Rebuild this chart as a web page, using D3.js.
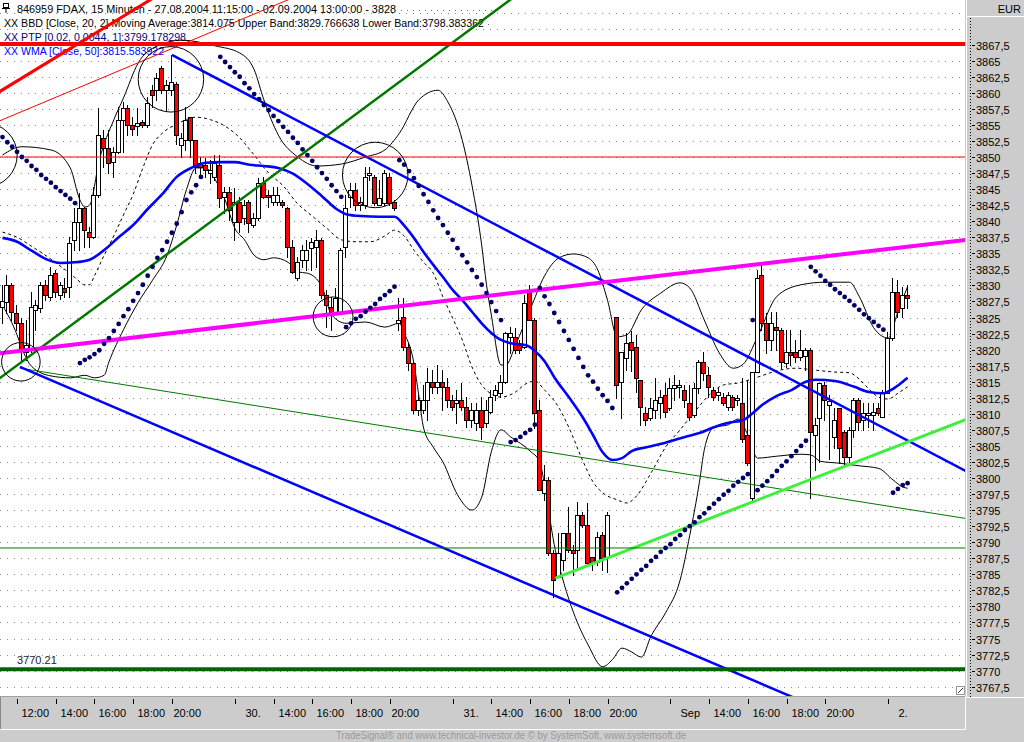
<!DOCTYPE html>
<html><head><meta charset="utf-8">
<script src="https://cdn.jsdelivr.net/npm/d3@7"></script>
<style>
body{margin:0;background:#cccccc;}
svg{display:block;font-family:"Liberation Sans",Arial,sans-serif;}
</style>
</head><body>
<svg id="c" width="1024" height="742"></svg>
<script>
// ---------------- DATA ----------------
const opens = [3826.6,3827.4,3830.1,3825.7,3824.1,3819.6,3820.2,3826.2,3826.5,3830.1,3828.2,3831.9,3828.5,3829.6,3829.7,3837.1,3839.9,3842.1,3838.3,3837.5,3844.1,3853.0,3851.4,3849.2,3850.8,3855.8,3857.6,3855.0,3854.8,3855.5,3855.0,3860.4,3860.4,3863.9,3860.4,3860.4,3861.4,3851.9,3852.6,3856.2,3852.6,3849.1,3848.8,3847.5,3846.9,3848.8,3843.8,3844.5,3839.9,3843.0,3840.5,3843.0,3839.4,3840.5,3846.0,3844.1,3843.0,3843.0,3843.0,3842.1,3836.0,3831.2,3834.0,3834.0,3835.8,3836.0,3837.1,3828.5,3826.6,3825.9,3825.9,3836.0,3843.8,3844.9,3842.5,3842.5,3847.2,3846.9,3842.5,3842.8,3846.9,3843.0,3824.1,3825.1,3820.4,3817.9,3810.6,3810.6,3812.1,3815.0,3814.2,3815.0,3814.2,3812.1,3811.7,3812.1,3811.1,3809.0,3808.6,3810.6,3808.6,3810.3,3812.9,3813.2,3815.0,3822.0,3822.0,3820.7,3820.4,3829.0,3824.6,3810.6,3797.7,3799.7,3788.3,3784.6,3787.2,3791.4,3788.8,3788.8,3794.2,3792.7,3787.7,3786.9,3791.1,3787.7,null,3825.1,3815.0,3818.7,3821.2,3820.4,3815.3,3810.1,3809.3,3810.6,3811.7,3812.9,3810.9,3814.0,3814.2,3813.7,3811.7,3809.8,3814.0,3818.1,3816.1,3813.7,3812.9,3812.6,3811.1,3812.6,3812.1,3811.7,3806.7,3796.9,3816.5,3831.6,3824.1,3821.5,3823.5,3823.1,3817.9,3819.6,3819.6,3818.9,3819.0,3820.0,3806.7,3809.3,3814.5,3811.4,3806.4,3810.9,3807.2,3803.3,3807.5,3812.1,3809.0,3809.8,3809.8,3810.9,3809.5,3813.2,3821.8,3829.0,3826.5,3828.5];
const highs = [3830.1,3831.6,3830.4,3827.0,3824.9,3824.6,3829.0,3827.7,3830.5,3830.8,3832.9,3832.4,3830.5,3831.2,3837.5,3842.1,3844.4,3842.2,3839.1,3845.3,3857.6,3854.2,3854.2,3851.6,3857.8,3858.6,3858.1,3856.2,3857.6,3855.8,3859.3,3861.2,3863.1,3864.2,3862.0,3865.9,3861.7,3853.7,3857.8,3856.2,3852.6,3850.0,3849.8,3849.5,3850.3,3850.3,3845.3,3845.3,3845.2,3843.8,3843.3,3843.3,3841.3,3846.7,3846.9,3844.9,3845.3,3845.3,3843.3,3842.2,3837.1,3834.4,3836.3,3837.1,3837.4,3838.6,3837.4,3829.3,3828.2,3829.6,3835.8,3844.1,3846.0,3846.0,3843.8,3848.4,3848.4,3847.2,3846.4,3848.0,3847.5,3843.3,3828.0,3828.0,3821.0,3818.1,3813.0,3814.5,3817.1,3816.8,3817.6,3816.8,3815.6,3812.9,3813.7,3814.8,3812.6,3811.7,3811.7,3812.6,3812.1,3813.7,3814.5,3816.1,3822.8,3823.5,3823.4,3821.5,3828.5,3830.1,3825.0,3812.1,3802.0,3800.2,3788.8,3791.5,3791.5,3795.5,3789.6,3796.3,3794.7,3796.1,3787.7,3791.6,3791.6,3794.7,null,3825.1,3819.6,3822.6,3822.9,3822.3,3815.3,3811.1,3812.5,3815.6,3813.7,3814.8,3815.6,3816.1,3815.3,3814.5,3814.5,3814.8,3818.4,3819.6,3817.3,3814.2,3814.0,3813.2,3813.4,3812.9,3812.9,3815.6,3815.3,3816.5,3832.4,3833.2,3825.7,3825.9,3825.9,3823.4,3823.1,3823.1,3821.5,3823.1,3820.2,3820.2,3809.3,3814.8,3815.0,3813.0,3810.9,3810.9,3807.5,3807.9,3812.5,3812.5,3811.7,3811.7,3811.7,3811.7,3813.7,3822.8,3831.2,3830.8,3829.7,3830.1];
const lows = [3824.1,3825.7,3824.6,3823.1,3818.4,3818.4,3819.6,3823.1,3825.9,3827.7,3827.7,3828.2,3827.9,3828.2,3828.2,3835.5,3835.5,3836.0,3836.0,3837.4,3843.8,3848.4,3847.5,3846.9,3850.6,3850.8,3853.4,3853.4,3853.4,3854.7,3854.7,3857.8,3858.9,3860.0,3857.3,3859.7,3852.0,3850.0,3851.1,3850.0,3847.5,3846.9,3846.9,3846.0,3846.4,3842.2,3841.3,3840.2,3837.1,3838.3,3839.5,3838.3,3839.1,3840.2,3843.6,3842.2,3842.5,3842.5,3842.2,3834.4,3831.9,3830.8,3832.9,3832.4,3832.4,3832.9,3828.0,3823.5,3823.1,3825.7,3825.7,3834.4,3842.2,3841.7,3841.7,3842.1,3846.4,3842.5,3842.5,3842.5,3842.5,3841.7,3823.1,3819.9,3816.8,3810.1,3809.8,3810.1,3809.0,3813.2,3813.2,3810.6,3811.1,3810.6,3808.6,3810.6,3807.9,3807.9,3807.5,3806.0,3807.9,3810.1,3812.1,3812.6,3814.8,3819.5,3819.5,3819.5,3820.2,3824.6,3807.8,3798.1,3796.6,3788.0,3781.5,3784.6,3785.7,3788.5,3784.9,3786.2,3792.4,3786.4,3785.7,3786.4,3785.7,3785.4,null,3812.5,3809.3,3816.8,3816.6,3813.4,3808.3,3808.3,3809.0,3809.3,3809.3,3809.5,3810.6,3812.1,3812.6,3811.1,3809.0,3809.5,3813.2,3815.3,3812.6,3812.1,3812.1,3811.4,3810.6,3810.6,3811.4,3805.6,3802.0,3796.6,3816.5,3823.1,3819.5,3819.9,3819.9,3817.1,3817.3,3817.6,3818.1,3818.4,3816.8,3796.9,3801.2,3802.5,3809.0,3803.0,3804.7,3802.3,3801.9,3802.3,3806.4,3807.5,3807.5,3807.9,3807.5,3809.8,3809.5,3813.2,3821.5,3825.1,3825.1,3826.5];
const closes = [3827.6,3830.1,3825.9,3824.1,3819.9,3820.7,3826.6,3827.0,3830.1,3828.5,3831.6,3829.0,3830.1,3829.0,3836.6,3839.9,3842.1,3838.6,3837.5,3844.1,3853.4,3851.4,3849.1,3850.8,3855.8,3857.6,3855.0,3854.4,3855.3,3855.0,3858.4,3859.7,3862.3,3860.4,3861.2,3861.7,3853.5,3853.0,3855.8,3852.6,3848.4,3848.4,3848.0,3848.0,3849.1,3843.6,3844.5,3841.7,3843.0,3839.9,3842.5,3839.7,3840.5,3846.0,3843.8,3843.8,3844.1,3844.1,3842.5,3836.0,3832.1,3833.6,3835.5,3835.5,3836.8,3837.1,3828.5,3826.9,3825.9,3828.0,3835.5,3842.1,3844.9,3842.5,3843.0,3846.9,3847.5,3842.8,3843.6,3847.5,3842.8,3842.1,3824.6,3820.4,3817.9,3810.6,3812.1,3812.1,3815.0,3814.2,3815.0,3814.2,3812.1,3811.1,3812.1,3811.1,3809.0,3810.6,3810.6,3807.9,3810.6,3812.6,3813.7,3815.0,3822.6,3822.6,3819.9,3819.9,3827.3,3824.6,3810.1,3798.1,3799.7,3788.3,3784.1,3788.3,3791.4,3788.8,3788.3,3794.2,3792.7,3786.8,3786.8,3790.8,3787.5,3794.2,null,3814.5,3819.6,3821.0,3819.9,3815.6,3811.1,3809.0,3810.9,3812.1,3812.6,3810.3,3814.0,3814.5,3814.5,3812.1,3809.5,3814.0,3818.1,3816.4,3814.2,3812.6,3813.4,3811.7,3812.9,3811.1,3812.5,3806.0,3802.3,3816.5,3831.2,3824.1,3821.5,3824.1,3823.1,3818.1,3819.6,3819.2,3818.9,3819.9,3820.0,3807.2,3808.3,3814.8,3812.1,3812.0,3809.0,3804.7,3803.3,3807.5,3812.1,3808.7,3810.1,3810.1,3810.3,3810.1,3813.2,3821.8,3829.0,3825.9,3828.5,3828.0];

// Parabolic SAR (one dot per bar, null = no dot)
const sar = [3853.1,3852.3,3851.6,3850.8,3850.0,3849.4,3848.6,3848.0,3847.2,3846.6,3846.0,3845.3,3844.7,3844.1,3843.5,3842.8,
3817.9,3818.4,3818.8,3819.3,3819.9,3820.9,3821.8,3822.9,3824.0,3825.2,3826.3,3827.6,3828.8,3830.1,3831.5,3832.9,3834.3,3835.5,3836.8,3838.2,3839.6,3841.4,3843.3,3844.5,3845.6,3846.9,
null,null,null,
3865.6,3864.8,3864.0,3863.2,3862.5,3861.5,3860.7,3859.8,3859.0,3858.1,3857.3,3856.4,3855.6,3854.7,3853.9,3853.0,3852.2,3851.2,3850.3,3849.4,3848.4,3847.5,3846.6,3845.6,3844.7,3843.8,
3823.5,3824.1,3824.8,3825.2,3825.9,3826.5,3827.1,3827.9,3828.5,3829.1,3829.8,
3849.5,3848.8,3847.8,3846.7,3845.5,3844.2,3843.0,3841.7,3840.5,3839.4,3838.2,3837.1,3835.8,3834.7,3833.6,3832.4,3831.3,3830.1,3828.8,3827.4,3826.0,3824.6,
null,
3805.6,3805.9,3806.4,3807.0,3807.5,3808.3,
3829.6,3828.3,3827.1,3825.7,3824.3,3822.9,3821.5,3820.1,3818.7,3817.3,3816.0,3815.0,3813.9,3812.9,3812.0,3810.9,
3782.2,3782.9,3783.6,3784.3,3785.0,3785.7,3786.3,3787.1,3787.7,3788.5,3789.1,3789.7,3790.5,3791.1,3791.9,3792.5,3793.1,3793.9,3794.5,3795.3,3796.0,3796.7,3797.4,3798.0,3798.8,3799.4,3800.0,3800.6,
3824.6,
3798.1,3798.8,3799.5,3800.3,3801.1,3801.9,3802.6,3803.4,3804.2,3805.0,3805.8,
3832.9,3832.2,3831.5,3830.7,3830.1,3829.4,3828.8,3828.2,3827.6,3826.9,3826.2,3825.5,3824.9,3824.3,3823.7,3823.1,
null,
3797.7,3798.3,3798.9,3799.2];

// Bollinger bands and WMA, sampled as [bar, value]
const bbUpper = [[0,3850.3],[4,3851.6],[10,3851.1],[14,3848.3],[16,3843.3],[17,3842.2],[18,3842.5],[20,3849.5],[23,3855.8],[25,3859.2],[28,3864.6],[32,3867.3],[37,3868.2],[44,3867.3],[49,3866.2],[52,3863.6],[54,3858.9],[57,3853.4],[61,3850.0],[65,3848.6],[70,3848.9],[75,3850.0],[79,3851.1],[82,3853.7],[86,3858.9],[90,3860.4],[92,3858.6],[95,3852.6],[97,3845.6],[99,3836.3],[100,3830.1],[101,3825.4],[103,3817.6],[104,3817.6],[106,3820.7],[109,3826.2],[112,3831.5],[115,3834.3],[118,3834.9],[121,3834.3],[123,3832.4],[125,3827.7],[127,3822.0],[129,3822.3],[132,3826.2],[136,3828.8],[140,3830.4],[142,3829.6],[145,3824.6],[148,3819.6],[151,3817.1],[153,3817.7],[156,3822.0],[160,3828.3],[165,3830.1],[170,3830.5],[175,3830.5],[177,3828.3],[180,3823.4],[183,3821.8],[185,3825.9],[187,3829.8]];
const bbMiddle = [[0,3838.3],[3,3837.5],[6,3836.1],[10,3834.1],[13,3832.4],[15,3831.2],[17,3830.1],[18,3830.1],[19,3831.5],[21,3834.7],[23,3837.7],[25,3841.0],[27,3844.2],[29,3848.3],[31,3851.9],[33,3853.7],[36,3855.1],[40,3856.2],[43,3855.8],[46,3854.8],[49,3853.0],[52,3850.3],[55,3847.5],[58,3845.5],[61,3842.7],[64,3840.8],[67,3838.9],[70,3837.1],[73,3836.8],[76,3836.8],[79,3837.7],[81,3838.6],[83,3837.7],[85,3835.5],[87,3833.6],[89,3831.9],[91,3828.2],[93,3824.9],[95,3821.5],[97,3817.3],[99,3814.5],[101,3813.1],[103,3812.6],[106,3813.4],[108,3814.6],[110,3815.1],[112,3813.7],[115,3810.9],[117,3807.9],[120,3802.5],[122,3799.4],[124,3797.7],[127,3796.6],[129,3796.1],[131,3797.2],[134,3800.8],[137,3804.8],[140,3807.5],[143,3810.3],[146,3812.9],[149,3814.5],[152,3814.8],[156,3815.7],[160,3816.7],[164,3817.1],[168,3816.8],[172,3816.5],[175,3816.4],[177,3815.4],[179,3813.9],[181,3812.6],[183,3812.3],[185,3813.2],[187,3814.2]];
const bbLower = [[0,3826.9],[3,3822.3],[4,3820.2],[6,3817.4],[10,3815.9],[14,3815.6],[17,3816.0],[19,3815.6],[21,3816.0],[22,3818.1],[25,3823.1],[28,3827.3],[31,3830.8],[34,3834.7],[36,3839.4],[38,3844.9],[40,3848.3],[42,3848.3],[44,3846.4],[46,3843.3],[48,3838.9],[50,3837.1],[52,3834.7],[54,3834.0],[56,3834.3],[59,3833.6],[61,3832.1],[63,3831.9],[66,3829.8],[68,3825.4],[71,3824.1],[75,3824.3],[79,3823.5],[82,3824.1],[83,3822.6],[85,3817.9],[86,3812.9],[87,3807.8],[89,3804.8],[91,3802.5],[94,3797.4],[97,3795.0],[99,3797.0],[101,3804.1],[103,3807.5],[105,3806.4],[109,3804.2],[111,3802.5],[112,3798.9],[114,3789.6],[116,3783.6],[118,3779.0],[121,3774.0],[124,3770.6],[126,3771.7],[128,3773.5],[130,3772.9],[132,3772.1],[134,3775.4],[137,3779.0],[140,3784.1],[142,3791.1],[144,3799.4],[145,3804.4],[147,3807.9],[150,3808.3],[152,3809.2],[154,3806.7],[156,3803.1],[160,3803.4],[165,3803.7],[167,3803.6],[169,3802.6],[173,3802.3],[177,3801.9],[181,3801.5],[184,3799.7],[186,3798.6],[187,3798.4]];
const wma = [[0,3837.4],[3,3836.8],[6,3835.4],[9,3834.1],[12,3833.5],[15,3833.6],[18,3834.0],[21,3835.5],[24,3837.5],[27,3839.4],[30,3841.9],[33,3844.2],[36,3846.9],[39,3848.3],[42,3849.1],[45,3849.2],[48,3849.2],[51,3848.8],[54,3848.6],[57,3848.3],[60,3847.4],[63,3845.8],[66,3843.9],[69,3841.9],[71,3841.1],[74,3840.8],[78,3840.7],[81,3840.7],[83,3839.3],[85,3837.4],[87,3835.2],[89,3833.2],[91,3831.3],[93,3829.3],[95,3827.7],[97,3825.9],[99,3824.1],[101,3822.6],[103,3821.5],[105,3821.0],[108,3820.7],[110,3819.8],[112,3818.2],[114,3815.7],[117,3812.6],[120,3809.3],[122,3806.7],[124,3804.0],[126,3802.8],[128,3803.1],[130,3804.2],[133,3804.8],[137,3805.5],[141,3806.4],[144,3807.0],[147,3807.9],[150,3808.6],[153,3809.0],[155,3810.1],[157,3811.4],[160,3812.8],[163,3813.7],[166,3815.0],[168,3815.3],[172,3815.1],[176,3814.2],[179,3813.4],[182,3813.2],[184,3813.9],[186,3815.0],[187,3815.6]];

// Hand-drawn trend lines, [bar, price] endpoints
const redFanThick = [[-1,3860.0],[31,3874.7]];
const redFanThin = [[-1,3855.5],[60,3874.8]];
const greenRising = [[-1,3815.3],[106,3875.1]];
const greenFalling = [[3.6,3817.1],[199,3793.7]];
const blueUpper = [[35,3865.9],[199,3801.1]];
const blueLower = [[3.6,3817.3],[165,3765.3]];
const magentaLine = [[-1,3819.4],[199,3837.1]];
const limeLine = [[114.2,3784.4],[199,3809.1]];
const redLevels = [3867.6, 3850];
const greenLevels = [3789.1, 3770.21];
const levelLabel = "3770.21";

// Annotation circles: centre bar, centre price, radius in price units
const circleBar = [-3.6, 34.8, 3.8, 68.3, 77.0];
const circlePrice = [3850.3, 3862.1, 3818.1, 3825.1, 3847.2];
const circleRadius = [5.0, 5.1, 3.0, 3.1, 5.1];

// Axis ticks
const xTickBars = [3,11,19,27,35,48,56,64,72,80,93,101,109,117,125,138,146,154,162,170,183];
const xTickLabels = ["12:00","14:00","16:00","18:00","20:00","30.","14:00","16:00","18:00","20:00","31.","14:00","16:00","18:00","20:00","Sep","14:00","16:00","18:00","20:00","2."];
const yTickValues = [3767.5,3770,3772.5,3775,3777.5,3780,3782.5,3785,3787.5,3790,3792.5,3795,3797.5,3800,3802.5,3805,3807.5,3810,3812.5,3815,3817.5,3820,3822.5,3825,3827.5,3830,3832.5,3835,3837.5,3840,3842.5,3845,3847.5,3850,3852.5,3855,3857.5,3860,3862.5,3865,3867.5];
const extraGrid = [3870, 3872.5];

const legend1 = "846959  FDAX, 15 Minuten - 27.08.2004 11:15:00 - 02.09.2004 13:00:00 - 3828";
const legend2 = "XX BBD [Close, 20, 2] Moving Average:3814.075 Upper Band:3829.766638 Lower Band:3798.383362";
const legend3 = "XX PTP [0.02, 0.0044, 1]:3799.178298";
const legend4 = "XX WMA [Close, 50]:3815.583922";
const footer = "TradeSignal\u00AE and www.technical-investor.de \u00A9 by  SystemSoft, www.systemsoft.de";

// ---------------- DRAWING ----------------
const svg = d3.select('#c');
const x = d3.scaleLinear().domain([0,187]).range([2.5, 907.58]);
const y = d3.scaleLinear().domain([3800,3850]).range([478,157]);
const PW = 965, PH = 696;

svg.append('rect').attr('width',1024).attr('height',742).attr('fill','#cccccc');
svg.append('rect').attr('x',0).attr('y',0).attr('width',PW).attr('height',PH).attr('fill','#ffffff');
svg.append('clipPath').attr('id','clip').append('rect').attr('x',0).attr('y',0).attr('width',PW).attr('height',PH);

// legend (under the drawing)
const lg = svg.append('g').attr('font-size',11);
lg.append('rect').attr('x',3.5).attr('y',3.5).attr('width',5).attr('height',4).attr('fill','none').attr('stroke','#000');
lg.append('line').attr('x1',6).attr('x2',6).attr('y1',8).attr('y2',13).attr('stroke','#000');
lg.append('line').attr('x1',2).attr('x2',10).attr('y1',8.5).attr('y2',8.5).attr('stroke','#000');
lg.append('text').attr('x',17).attr('y',13).attr('textLength',379).attr('lengthAdjust','spacingAndGlyphs').attr('fill','#000').text(legend1);
lg.append('text').attr('x',4).attr('y',27).attr('textLength',480).attr('lengthAdjust','spacingAndGlyphs').attr('fill','#000').text(legend2);
lg.append('text').attr('x',4).attr('y',41).attr('textLength',182).attr('lengthAdjust','spacingAndGlyphs').attr('fill','#000080').text(legend3);
lg.append('text').attr('x',4).attr('y',55).attr('textLength',160).attr('lengthAdjust','spacingAndGlyphs').attr('fill','#0000ff').text(legend4);
lg.append('line').attr('x1',401).attr('x2',494).attr('y1',10.5).attr('y2',10.5).attr('stroke','#666').attr('stroke-dasharray','1,5');
lg.append('line').attr('x1',488).attr('x2',494).attr('y1',24.5).attr('y2',24.5).attr('stroke','#666').attr('stroke-dasharray','1,5');

const plot = svg.append('g').attr('clip-path','url(#clip)');

// grid
plot.selectAll('line.grid').data(yTickValues.concat(extraGrid)).enter().append('line')
  .attr('class','grid').attr('x1',0).attr('x2',PW)
  .attr('y1',d=>Math.round(y(d))+0.5).attr('y2',d=>Math.round(y(d))+0.5)
  .attr('stroke','#8a8a8a').attr('stroke-dasharray','1,6');

const curve = d3.line().x(d=>x(d[0])).y(d=>y(d[1])).curve(d3.curveMonotoneX);
const straight = d3.line().x(d=>x(d[0])).y(d=>y(d[1]));

// Bollinger bands
plot.append('path').attr('d',curve(bbUpper)).attr('fill','none').attr('stroke','#000').attr('stroke-width',1);
plot.append('path').attr('d',curve(bbLower)).attr('fill','none').attr('stroke','#000').attr('stroke-width',1);
plot.append('path').attr('d',curve(bbMiddle)).attr('fill','none').attr('stroke','#000').attr('stroke-width',1).attr('stroke-dasharray','3,3');

// candles
const bars = d3.range(opens.length).filter(i=>opens[i]!==null);
const cg = plot.append('g').attr('shape-rendering','crispEdges');
bars.forEach(i=>{
  const a = Math.round(x(i));
  cg.append('line').attr('x1',a-0.5).attr('x2',a-0.5)
    .attr('y1',Math.round(y(highs[i]))).attr('y2',Math.round(y(lows[i]))+1)
    .attr('stroke','#000');
  const top = Math.round(y(Math.max(opens[i],closes[i])));
  const bot = Math.round(y(Math.min(opens[i],closes[i])));
  cg.append('rect').attr('x',a-2.5).attr('y',top+0.5).attr('width',4)
    .attr('height',Math.max(1,bot-top))
    .attr('fill',closes[i]>=opens[i]?'#ffffff':'#ff0000')
    .attr('stroke','#000').attr('stroke-width',1);
});

// WMA
plot.append('path').attr('d',curve(wma)).attr('fill','none').attr('stroke','#0000ff').attr('stroke-width',2.6);

// trend lines
function tl(pts,color,w){ plot.append('path').attr('d',straight(pts)).attr('fill','none').attr('stroke',color).attr('stroke-width',w); }
tl(redFanThin,'#ff0000',1);
tl(redFanThick,'#ff0000',3);
tl(greenFalling,'#007800',1);
tl(greenRising,'#007800',2.5);
tl(blueUpper,'#0000ff',2.5);
tl(blueLower,'#0000ff',2.5);
tl(magentaLine,'#ff00ff',4);
tl(limeLine,'#3cf03c',3);

plot.selectAll('line.rl').data(redLevels).enter().append('line').attr('class','rl')
  .attr('x1',0).attr('x2',PW).attr('y1',d=>y(d)).attr('y2',d=>y(d))
  .attr('stroke','#ff0000').attr('stroke-width',(d,k)=>k===0?4:1);
plot.selectAll('line.gl').data(greenLevels).enter().append('line').attr('class','gl')
  .attr('x1',0).attr('x2',PW).attr('y1',d=>y(d)).attr('y2',d=>y(d))
  .attr('stroke',(d,k)=>k===0?'#007800':'#006400').attr('stroke-width',(d,k)=>k===0?1:4);
plot.append('text').attr('x',17).attr('y',y(greenLevels[1])-5).attr('font-size',11).attr('fill','#222').text(levelLabel);

// annotation circles
circleBar.forEach((b,k)=>{
  plot.append('circle').attr('cx',x(b)).attr('cy',y(circlePrice[k]))
    .attr('r',y(circlePrice[k]-circleRadius[k])-y(circlePrice[k]))
    .attr('fill','none').attr('stroke','#000').attr('stroke-width',1);
});

// parabolic SAR dots
plot.selectAll('circle.sar').data(sar.map((v,i)=>[i,v]).filter(d=>d[1]!==null)).enter()
  .append('circle').attr('class','sar').attr('cx',d=>x(d[0])).attr('cy',d=>y(d[1])).attr('r',2.4).attr('fill','#000066');

// small corner glyph
svg.append('rect').attr('x',956.5).attr('y',686.5).attr('width',8).attr('height',8).attr('fill','#fff').attr('stroke','#999');
svg.append('line').attr('x1',958).attr('y1',693).attr('x2',963).attr('y2',688).attr('stroke','#333');

// plot bottom border
svg.append('line').attr('x1',0).attr('x2',PW).attr('y1',696.5).attr('y2',696.5).attr('stroke','#a0a0a0');

// right axis box
svg.append('line').attr('x1',966.5).attr('x2',966.5).attr('y1',0).attr('y2',697).attr('stroke','#fff');
svg.append('line').attr('x1',966).attr('x2',1024).attr('y1',16.5).attr('y2',16.5).attr('stroke','#fff');
svg.append('line').attr('x1',966).attr('x2',1024).attr('y1',697.5).attr('y2',697.5).attr('stroke','#fff');
svg.append('text').attr('x',1021).attr('y',13).attr('text-anchor','end').attr('font-size',11).attr('fill','#000').text('EUR');
svg.append('line').attr('x1',970.5).attr('x2',970.5).attr('y1',18).attr('y2',697).attr('stroke','#000').attr('stroke-dasharray','1,2');
const ya = svg.append('g').attr('font-size',11);
yTickValues.forEach(v=>{
  const yy = Math.round(y(v))+0.5;
  ya.append('line').attr('x1',972).attr('x2',975).attr('y1',yy).attr('y2',yy).attr('stroke','#000');
  ya.append('text').attr('x',976).attr('y',yy+4).attr('fill','#000').text(String(v).replace('.',','));
});

// bottom time axis
svg.append('line').attr('x1',0).attr('x2',965).attr('y1',729.5).attr('y2',729.5).attr('stroke','#fff');
svg.append('line').attr('x1',965.5).attr('x2',965.5).attr('y1',697).attr('y2',730).attr('stroke','#fff');
svg.append('line').attr('x1',0.5).attr('x2',0.5).attr('y1',697).attr('y2',729).attr('stroke','#888');
const xa = svg.append('g').attr('font-size',11);
xTickBars.forEach((b,k)=>{
  const xx = Math.round(x(b))+0.5;
  xa.append('line').attr('x1',xx).attr('x2',xx).attr('y1',699).attr('y2',704).attr('stroke','#000');
  const lab = xTickLabels[k];
  const dx = lab.indexOf(':')<0 ? 10 : (lab==='20:00' ? 1 : 4);
  xa.append('text').attr('x',xx+dx).attr('y',717).attr('fill','#000').text(lab);
});

// footer
svg.append('text').attr('x',336).attr('y',739).attr('font-size',10).attr('fill','#9a9a9a')
  .attr('textLength',350).attr('lengthAdjust','spacingAndGlyphs').text(footer);
</script>
</body></html>
